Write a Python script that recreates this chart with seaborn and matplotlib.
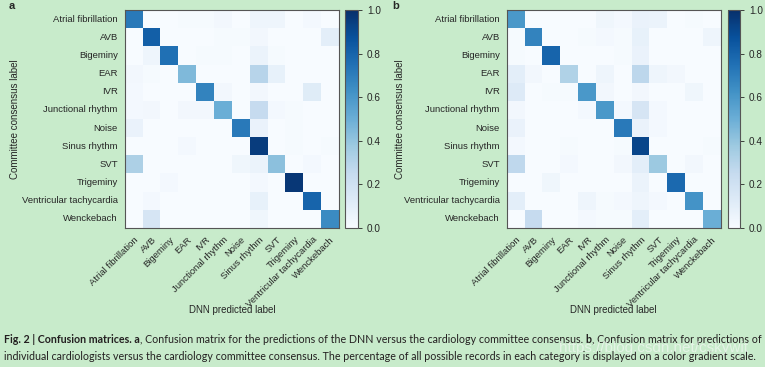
import matplotlib
matplotlib.use("Agg")
import matplotlib.pyplot as plt
import numpy as np
import pandas as pd
import seaborn as sns

# ---------------------------------------------------------------------------
# data
# ---------------------------------------------------------------------------
CLASSES = [
    "Atrial fibrillation", "AVB", "Bigeminy", "EAR", "IVR", "Junctional rhythm",
    "Noise", "Sinus rhythm", "SVT", "Trigeminy", "Ventricular tachycardia",
    "Wenckebach",
]

# a: DNN vs committee (rows = committee label, cols = predicted label)
CM_DNN = [
    [0.72, 0.00, 0.00, 0.01, 0.01, 0.03, 0.00, 0.05, 0.05, 0.00, 0.02, 0.00],
    [0.00, 0.82, 0.00, 0.00, 0.00, 0.01, 0.01, 0.03, 0.00, 0.00, 0.00, 0.10],
    [0.00, 0.05, 0.75, 0.00, 0.01, 0.01, 0.00, 0.06, 0.01, 0.00, 0.00, 0.00],
    [0.03, 0.01, 0.00, 0.45, 0.00, 0.00, 0.00, 0.30, 0.08, 0.00, 0.00, 0.00],
    [0.02, 0.00, 0.00, 0.00, 0.68, 0.03, 0.00, 0.03, 0.00, 0.00, 0.12, 0.00],
    [0.02, 0.03, 0.00, 0.03, 0.03, 0.50, 0.00, 0.25, 0.02, 0.01, 0.00, 0.00],
    [0.07, 0.00, 0.00, 0.00, 0.00, 0.00, 0.72, 0.07, 0.00, 0.01, 0.00, 0.00],
    [0.00, 0.00, 0.00, 0.02, 0.00, 0.00, 0.00, 0.95, 0.00, 0.01, 0.00, 0.01],
    [0.33, 0.00, 0.00, 0.00, 0.00, 0.00, 0.04, 0.06, 0.42, 0.00, 0.02, 0.00],
    [0.00, 0.00, 0.02, 0.00, 0.00, 0.00, 0.00, 0.02, 0.00, 0.97, 0.00, 0.00],
    [0.00, 0.02, 0.00, 0.00, 0.00, 0.00, 0.00, 0.08, 0.00, 0.00, 0.80, 0.00],
    [0.00, 0.17, 0.00, 0.00, 0.00, 0.00, 0.00, 0.04, 0.00, 0.00, 0.00, 0.65],
]

# b: individual cardiologists vs committee
CM_CARDIO = [
    [0.60, 0.00, 0.00, 0.00, 0.00, 0.04, 0.02, 0.07, 0.06, 0.00, 0.01, 0.00],
    [0.01, 0.68, 0.00, 0.00, 0.01, 0.02, 0.01, 0.08, 0.00, 0.00, 0.00, 0.05],
    [0.01, 0.00, 0.80, 0.00, 0.00, 0.00, 0.01, 0.07, 0.00, 0.00, 0.00, 0.00],
    [0.10, 0.03, 0.00, 0.32, 0.00, 0.05, 0.00, 0.28, 0.05, 0.03, 0.00, 0.00],
    [0.13, 0.00, 0.01, 0.01, 0.60, 0.03, 0.00, 0.03, 0.00, 0.00, 0.04, 0.00],
    [0.03, 0.00, 0.00, 0.00, 0.02, 0.60, 0.02, 0.17, 0.02, 0.00, 0.00, 0.00],
    [0.07, 0.00, 0.00, 0.00, 0.00, 0.00, 0.72, 0.07, 0.02, 0.00, 0.00, 0.00],
    [0.02, 0.00, 0.00, 0.01, 0.00, 0.00, 0.01, 0.92, 0.00, 0.00, 0.00, 0.01],
    [0.27, 0.00, 0.00, 0.02, 0.00, 0.00, 0.03, 0.10, 0.38, 0.00, 0.03, 0.00],
    [0.00, 0.00, 0.04, 0.00, 0.00, 0.00, 0.00, 0.06, 0.00, 0.78, 0.00, 0.00],
    [0.10, 0.00, 0.00, 0.00, 0.05, 0.01, 0.02, 0.05, 0.02, 0.00, 0.62, 0.00],
    [0.00, 0.25, 0.00, 0.00, 0.02, 0.01, 0.01, 0.10, 0.00, 0.00, 0.00, 0.50],
]

PANELS = ["a", "b"]
X_LABEL = "DNN predicted label"
Y_LABEL = "Committee consensus label"
CBAR_TICKS = [0.0, 0.2, 0.4, 0.6, 0.8, 1.0]

CAPTION = [
    [("Fig. 2 | Confusion matrices. a", True),
     (", Confusion matrix for the predictions of the DNN versus the cardiology "
      "committee consensus. ", False),
     ("b", True),
     (", Confusion matrix for predictions of", False)],
    [("individual cardiologists versus the cardiology committee consensus. The "
      "percentage of all possible records in each category is displayed on a "
      "color gradient scale.", False)],
]
WATERMARK = "https://blog.csdn.net/cskywit"

BG = "#c8ebcb"

# ---------------------------------------------------------------------------
# figure
# ---------------------------------------------------------------------------
sns.set_style("white")
plt.rcParams["font.family"] = ["Liberation Sans", "DejaVu Sans"]

fig = plt.figure(figsize=(7.65, 3.67), dpi=100)
fig.patch.set_facecolor(BG)

W, H = 765, 367


def px_axes(x0, y0, x1, y1):
    return fig.add_axes([x0 / W, 1 - y1 / H, (x1 - x0) / W, (y1 - y0) / H])


layout = {
    "a": dict(hm=(124.7, 10, 339, 228), cb=(345, 10, 358, 228), lab=12, ylab=15),
    "b": dict(hm=(506.7, 10, 720.7, 228), cb=(728, 10, 740, 228), lab=396, ylab=400),
}

for key, mat in zip(PANELS, [CM_DNN, CM_CARDIO]):
    lay = layout[key]
    ax = px_axes(*lay["hm"])
    cax = px_axes(*lay["cb"])
    df = pd.DataFrame(mat, index=CLASSES, columns=CLASSES)
    sns.heatmap(df, ax=ax, cbar_ax=cax, cmap="Blues", vmin=0, vmax=1,
                linewidths=0, cbar_kws={"ticks": CBAR_TICKS})
    ax.set_xticklabels(CLASSES, rotation=45, ha="right",
                       rotation_mode="anchor", fontsize=6.8)
    ax.set_yticklabels(CLASSES, rotation=0, fontsize=6.8)
    ax.tick_params(axis="both", length=3, width=0.6, color="#333333", pad=2)
    for sp in ax.spines.values():
        sp.set_visible(True)
        sp.set_linewidth(0.8)
        sp.set_color("#555555")
    ax.set_xlabel("")
    ax.set_ylabel("")
    cax.tick_params(labelsize=7.2, length=3, width=0.6)
    cax.set_yticklabels([f"{t:.1f}" for t in CBAR_TICKS])
    cbar = ax.collections[0].colorbar
    cbar.outline.set_visible(True)
    cbar.outline.set_linewidth(0.8)
    cbar.outline.set_edgecolor("#555555")

    cx = (lay["hm"][0] + lay["hm"][2]) / 2
    fig.text(cx / W, 1 - 310 / H, X_LABEL, ha="center", va="center", fontsize=7)
    fig.text(lay["ylab"] / W, 1 - 119 / H, Y_LABEL, rotation=90,
             ha="center", va="center", fontsize=7)
    fig.text(lay["lab"] / W, 1 - 6 / H, key, ha="center", va="center",
             fontsize=8, fontweight="bold")

# caption, bold/regular runs placed one after another
fig.canvas.draw()
renderer = fig.canvas.get_renderer()
cap_kw = dict(family=["Lato", "DejaVu Sans"], fontsize=7.62, color="#231f20",
              va="baseline", ha="left")
for line, ybase in zip(CAPTION, [343, 360]):
    x = 4 / W
    for txt, bold in line:
        t = fig.text(x, 1 - ybase / H, txt,
                     fontweight="bold" if bold else "normal", **cap_kw)
        bb = t.get_window_extent(renderer)
        x = bb.x1 / W

fig.text(559 / W, 1 - 348 / H, WATERMARK, ha="left", va="center",
         fontsize=11, color="#eef6ef", alpha=0.75)

fig.savefig("out.png", dpi=100, facecolor=BG)
